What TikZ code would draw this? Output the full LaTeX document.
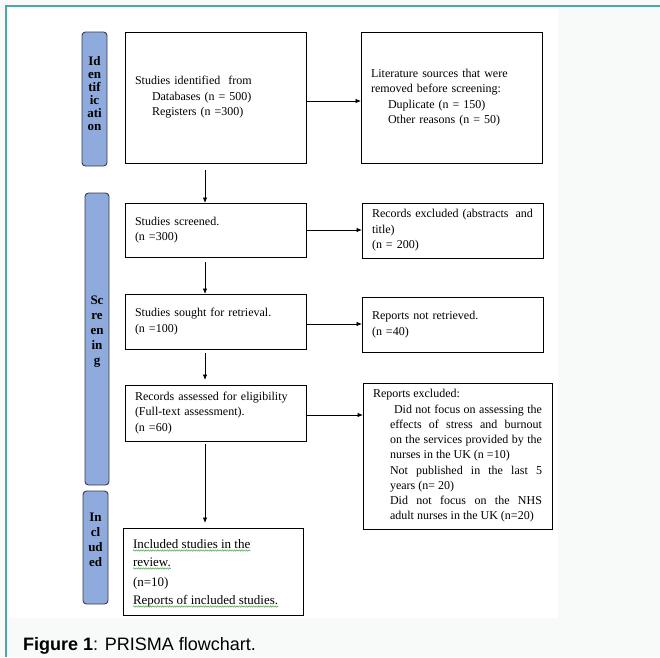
\documentclass[tikz,border=0pt]{standalone}
\usepackage{fontspec}
\setmainfont{Liberation Serif}
\newfontfamily\capfont{Liberation Sans}
\usetikzlibrary{arrows.meta,decorations.pathmorphing}
\definecolor{teal1}{RGB}{80,165,165}
\definecolor{sidefill}{RGB}{143,170,220}
\definecolor{sidedraw}{RGB}{55,60,75}
\definecolor{bgpage}{RGB}{247,250,249}
\definecolor{squig}{RGB}{95,165,95}
\begin{document}
\begin{tikzpicture}[x=1pt,y=-1pt,
  box/.style={draw=black, line width=0.9pt, fill=white, inner xsep=10pt, inner ysep=0pt, outer sep=0pt,
    align=left, font=\fontsize{12}{15.5}\selectfont},
  side/.style={draw=sidedraw, fill=sidefill, line width=0.9pt, rounded corners=3.5pt, inner sep=0pt, outer sep=0pt},
  sidetxt/.style={inner sep=0pt, outer sep=0pt, align=center},
  linenine/.style={inner sep=0pt, outer sep=0pt, anchor=base west, font=\fontsize{13}{15}\selectfont},
  wave/.style={squig, line width=0.55pt, decorate, decoration={snake, amplitude=0.7pt, segment length=2.4pt}},
  arr/.style={-{Latex[length=5.5pt,width=4.5pt]}, line width=0.8pt},
]
\useasboundingbox (0,0) rectangle (660,657);
\fill[bgpage] (0,0) rectangle (660,657);
\fill[white] (9,9) rectangle (558,618);
\draw[teal1, line width=2pt] (6,657) -- (6,6) -- (660,6);

% side labels
\node[side, minimum width=25pt, minimum height=134pt] (s1) at (94.5,99) {};
\node[side, minimum width=24pt, minimum height=292pt] (s2) at (97,339) {};
\node[side, minimum width=25pt, minimum height=113pt] (s3) at (95.5,547.5) {};
\node[sidetxt, font=\bfseries\fontsize{13}{13}\selectfont] (l1) at (94.5,94) {Id\\en\\tif\\ic\\ati\\on};
\node[sidetxt, font=\bfseries\fontsize{13}{15}\selectfont] (l2) at (97,332) {Sc\\re\\en\\in\\g};
\node[sidetxt, font=\bfseries\fontsize{13}{15}\selectfont] (l3) at (95.5,540) {In\\cl\\ud\\ed};

% boxes
\node[box, text width=161pt, minimum height=131pt] (b1) at (215.5,97.5)
  {Studies identified\hspace{4pt} from\\\hspace*{17pt}Databases (n = 500)\\\hspace*{17pt}Registers (n =300)};
\node[box, text width=161pt, minimum height=131pt] (b2) at (451.5,97.5)
  {Literature sources that were\\removed before screening:\\\hspace*{17pt}Duplicate (n = 150)\\\hspace*{17pt}Other reasons (n = 50)};
\node[box, text width=161pt, minimum height=54pt] (b3) at (215.5,230)
  {Studies screened.\\(n =300)};
\node[box, text width=161pt, minimum height=55pt] (b4) at (452.5,230.5)
  {Records excluded (abstracts\hspace{3pt} and\\title)\\(n = 200)};
\node[box, text width=161pt, minimum height=55pt] (b5) at (215.5,321.5)
  {Studies sought for retrieval.\\(n =100)};
\node[box, text width=161pt, minimum height=55pt] (b6) at (452.5,324.5)
  {Reports not retrieved.\\(n =40)};
\node[box, text width=161pt, minimum height=56pt] (b7) at (215.5,413)
  {Records assessed for eligibility\\(Full-text assessment).\\(n =60)};
\node[box, text width=169pt, minimum height=146pt, align=justify, font=\fontsize{12}{15.25}\selectfont] (b8) at (457.5,456)
  {\parindent=0pt Reports excluded:\par
   \leftskip=17pt
   \hspace{4pt}Did not focus on assessing the\linebreak effects of stress and burnout\linebreak on the services provided by the\linebreak nurses in the UK (n =10)\par
   Not published in the last 5\linebreak years (n= 20)\par
   Did not focus on the NHS\linebreak adult nurses in the UK (n=20)\par};
\node[box, minimum width=180pt, minimum height=87pt, inner sep=0pt] (b9) at (213,571.5) {};
\node[linenine] (n1) at (133,548) {Included studies in the};
\node[linenine] (n2) at (133,566) {review.};
\node[linenine] (n3) at (133,586) {(n=10)};
\node[linenine] (n4) at (133,604) {Reports of included studies.};
\draw[wave] ([yshift=-2.5pt]n1.base west) -- ([yshift=-2.5pt]n1.base east);
\draw[wave] ([yshift=-2.5pt]n2.base west) -- ([yshift=-2.5pt]n2.base east);
\draw[wave] ([yshift=-2.5pt]n4.base west) -- ([yshift=-2.5pt]n4.base east);

% connectors
\draw[arr] ([yshift=-3.5pt]b1.east) -- ([yshift=-3.5pt]b2.west);
\draw[arr, shorten <=7pt] ([xshift=-10.5pt]b1.south) -- ([xshift=-10.5pt]b3.north);
\draw[arr] (b3.east) -- (b3.east -| b4.west);
\draw[arr, shorten <=5pt] ([xshift=-10.5pt]b3.south) -- ([xshift=-10.5pt]b5.north);
\draw[arr] ([yshift=-2.5pt]b5.east) -- ([yshift=-2.5pt]b5.east -| b6.west);
\draw[arr, shorten <=4pt, shorten >=5pt] ([xshift=-10.5pt]b5.south) -- ([xshift=-10.5pt]b7.north);
\draw[arr] ([yshift=-2pt]b7.east) -- ([yshift=-2pt]b7.east -| b8.west);
\draw[arr, shorten <=3pt, shorten >=5pt] ([xshift=-10.5pt]b7.south) -- ([xshift=-10.5pt]b7.south |- b9.north);

% caption
\node[anchor=base west, inner sep=0pt, font=\capfont\fontsize{18}{20}\selectfont] (cap) at (23,650)
  {\textbf{Figure 1}: PRISMA flowchart.};
\end{tikzpicture}
\end{document}
